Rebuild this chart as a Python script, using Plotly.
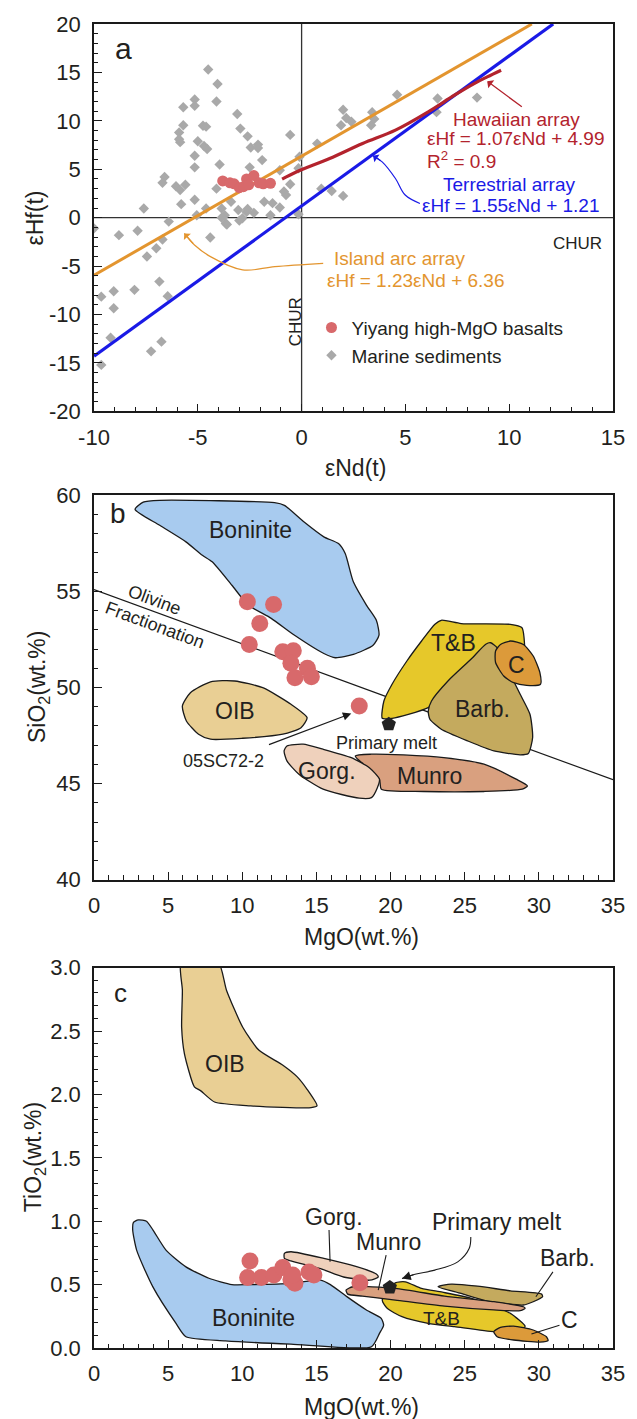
import plotly.graph_objects as go

FONT = "Liberation Sans, Arial, Helvetica, sans-serif"
TXT = "#231f20"

# ---------------- tick labels ----------------
a_xticks = [-10, -5, 0, 5, 10, 15]
a_xlabels = ["-10", "-5", "0", "5", "10", "15"]
a_yticks = [-20, -15, -10, -5, 0, 5, 10, 15, 20]
a_ylabels = ["-20", "-15", "-10", "-5", "0", "5", "10", "15", "20"]

# ---------------- Panel a data ----------------
sed_x = [-4.5, -4.05, -4.1, -5.15, -5.15, -5.7, -3.1, -4.75, -4.6, -5.7, -5.9, -2.95, -2.6, -0.55,
         -5.9, -5.85, -5.0, -4.7, -4.55, -2.45, -2.1, -2.1, -5.15, -1.9, -3.95, -5.15, -2.5, -1.05,
         -0.1, -6.6, -6.7, -6.05, -5.6, -5.85, -4.1, -0.55, -0.85, -0.75, -1.8, -2.3, -1.4, -5.8,
         -5.15, -4.6, -7.6, -3.85, -3.05, -2.65, -2.6, -3.4, -1.05, -1.5, -3.7, -5.05, -6.4, -3.65,
         -3.0, -0.15,
         -10.0, -8.8, -7.9, -6.7, -7.0, -7.45, -6.85, -6.45, -8.05, -9.05, -9.65, -9.05, -9.2,
         -9.65, -7.25, -6.75, -4.4, -3.85, -3.6, -2.85,
         2.0, 1.9, 2.15, 2.4, 3.4, 3.35, 3.5, 4.6, 6.55, 6.5, 8.45, 0.75, 0.95, 1.45, 2.0, -0.15]
sed_y = [15.3, 13.8, 12.0, 12.2, 11.55, 11.4, 10.7, 9.5, 9.4, 9.55, 8.8, 9.2, 8.4, 8.55,
         8.1, 7.8, 7.9, 7.4, 7.1, 7.25, 7.55, 7.2, 6.4, 5.95, 5.5, 5.2, 5.2, 4.9,
         6.3, 4.2, 3.6, 3.25, 3.4, 2.85, 3.0, 3.45, 2.7, 2.35, 1.65, 0.5, 1.5, 1.4,
         1.85, 0.95, 0.95, 0.95, 0.8, 0.6, 0.9, 1.65, 1.05, 0.25, 0.25, 0.25, -0.4, -0.6,
         -0.3, 0.35,
         -1.1, -1.8, -1.35, -2.25, -3.15, -4.0, -6.6, -8.1, -7.45, -7.6, -8.15, -9.35, -12.4,
         -15.2, -13.8, -12.8, -2.05, 0.0, -0.7, -0.05,
         11.15, 9.55, 10.3, 9.9, 10.9, 9.55, 10.2, 12.7, 12.3, 10.9, 12.4, 7.65, 3.0, 2.75, 2.25, 5.1]

bas_a_x = [-3.8, -3.45, -3.25, -3.0, -2.8, -2.65, -2.55, -2.3, -2.05, -1.85, -1.5]
bas_a_y = [3.8, 3.6, 3.5, 3.1, 3.2, 4.0, 3.4, 4.35, 3.6, 3.5, 3.55]

island_x = [-10.0, 11.09]
island_y = [-5.94, 20.0]
terr_x = [-10.0, 12.12]
terr_y = [-14.29, 20.0]
haw_x = [-0.94, -0.23, 1.35, 2.94, 4.52, 6.1, 7.36, 8.31, 8.94, 9.61]
haw_y = [3.98, 4.74, 6.11, 7.66, 9.04, 10.93, 12.65, 13.85, 14.54, 15.23]

terr_arrow_x = [5.7, 4.99, 4.52, 3.88, 3.44]
terr_arrow_y = [1.47, 2.34, 4.05, 5.77, 6.39]
isl_arrow_x = [1.04, -1.29, -2.84, -4.39, -5.16, -5.65]
isl_arrow_y = [-4.71, -5.05, -5.39, -4.02, -2.82, -1.62]
haw_arrow_x = [10.68, 8.94]
haw_arrow_y = [11.34, 14.09]
CHUR = 0

# ---------------- Panel b data ----------------
bon_b_x = [2.77, 3.32, 4.43, 12.18, 12.84, 14.17, 15.5, 16.49, 16.94, 17.49, 18.37, 19.04, 19.22, 18.82,
           17.49, 16.27, 15.5, 13.5, 11.95, 10.4, 9.3, 7.97, 7.31, 6.2, 4.43, 2.77]
bon_b_y = [59.27, 59.65, 59.74, 59.62, 59.48, 58.61, 57.84, 57.49, 56.97, 55.5, 54.29, 53.5, 52.73, 52.2,
           51.72, 51.55, 51.77, 52.73, 53.6, 54.29, 55.32, 56.54, 56.88, 57.58, 58.44, 59.27]
oib_b_x = [5.96, 6.5, 7.86, 9.49, 11.38, 13.28, 14.37, 13.96, 12.74, 10.03, 7.86, 7.05, 6.23, 5.96]
oib_b_y = [49.04, 49.73, 50.3, 50.34, 49.99, 49.13, 48.43, 47.91, 47.57, 47.36, 47.31, 47.57, 48.26, 49.04]
tb_b_x = [19.44, 19.55, 20.1, 21.1, 22.09, 22.99, 23.42, 24.76, 28.08, 28.85, 29.0, 28.96, 27.5, 24.5,
          22.54, 21.2, 20.1, 19.44]
tb_b_y = [48.4, 49.3, 50.17, 51.38, 52.42, 53.29, 53.5, 53.33, 53.29, 53.12, 52.6, 51.56, 51.0, 50.0,
          48.95, 48.6, 48.4, 48.4]
barb_b_x = [26.74, 27.19, 27.85, 28.74, 29.4, 29.58, 29.29, 28.74, 26.97, 25.2, 23.42, 22.65, 22.54, 22.76,
            23.87, 25.42, 26.42, 26.74]
barb_b_y = [52.33, 52.07, 51.03, 49.65, 48.61, 47.4, 46.57, 46.5, 46.7, 47.22, 47.83, 48.35, 48.78, 49.3,
            50.34, 51.47, 52.25, 52.33]
c_b_x = [27.41, 28.08, 28.96, 29.62, 30.07, 30.11, 29.18, 28.3, 27.63, 27.08, 27.08, 27.41]
c_b_y = [52.24, 52.42, 52.24, 51.64, 50.77, 50.17, 50.11, 50.25, 50.6, 51.3, 51.9, 52.24]
gorg_b_x = [13.01, 14.1, 15.45, 17.35, 18.57, 19.25, 19.11, 18.71, 17.89, 15.45, 13.82, 13.01, 12.82, 13.01]
gorg_b_y = [46.96, 47.05, 46.79, 46.35, 45.83, 45.23, 44.79, 44.27, 44.24, 44.71, 45.49, 46.18, 46.7, 46.96]
munro_b_x = [17.62, 18.71, 20.88, 23.59, 26.3, 28.47, 29.23, 28.88, 26.3, 22.23, 19.38, 19.25, 18.16, 17.62]
munro_b_y = [46.44, 46.53, 46.49, 46.35, 46.01, 45.23, 44.88, 44.71, 44.59, 44.59, 44.71, 45.23, 46.01, 46.44]
ol_x = [0, 35]
ol_y = [55.1, 45.2]
bas_b_x = [10.34, 12.11, 11.18, 10.47, 12.73, 13.44, 13.28, 14.39, 13.55, 14.66, 17.89]
bas_b_y = [54.46, 54.32, 53.33, 52.24, 51.86, 51.91, 51.26, 51.0, 50.51, 50.56, 49.04]
pm_b_x = [19.88]
pm_b_y = [48.09]
smp_arrow_x = [11.7, 17.35]
smp_arrow_y = [47.0, 48.65]

# ---------------- Panel c data ----------------
bon_c_x = [2.99, 3.54, 3.98, 4.87, 6.2, 7.75, 9.3, 10.4, 13.28, 15.28, 15.94, 17.05, 18.37, 19.37, 19.53,
           19.26, 18.71, 13.28, 8.86, 6.2, 5.53, 3.98, 2.88, 2.61, 2.66, 2.99]
bon_c_y = [1.01, 1.0, 0.93, 0.77, 0.64, 0.55, 0.5, 0.5, 0.51, 0.535, 0.5, 0.405, 0.3, 0.234, 0.18,
           0.117, 0.01, 0.03, 0.057, 0.089, 0.194, 0.48, 0.77, 0.93, 0.99, 1.01]
oib_c_x = [5.88, 8.35, 8.94, 10.03, 11.11, 12.74, 13.69, 14.37, 15.04, 14.64, 10.57, 8.13, 7.18, 6.77,
           6.1, 5.91, 5.96, 5.88]
oib_c_y = [3.05, 3.05, 2.82, 2.53, 2.35, 2.23, 2.14, 2.04, 1.91, 1.895, 1.91, 1.94, 2.03, 2.06,
           2.32, 2.53, 2.82, 3.05]
gorg_c_x = [12.84, 13.28, 15.5, 17.71, 19.04, 19.17, 18.6, 16.83, 15.28, 13.28, 12.84, 12.84]
gorg_c_y = [0.746, 0.759, 0.707, 0.641, 0.583, 0.56, 0.535, 0.56, 0.626, 0.687, 0.707, 0.746]
munro_c_x = [17.0, 17.45, 20.32, 23.64, 26.96, 28.96, 29.07, 28.74, 26.96, 23.64, 20.32, 18.1, 17.11, 17.0]
munro_c_y = [0.457, 0.483, 0.47, 0.409, 0.365, 0.325, 0.312, 0.294, 0.3, 0.33, 0.378, 0.409, 0.425, 0.457]
tb_c_x = [19.44, 20.32, 20.99, 22.09, 23.5, 25.5, 28.08, 29.07, 28.96, 27.85, 26.96, 24.31, 22.54, 20.77,
          19.77, 19.44]
tb_c_y = [0.378, 0.514, 0.522, 0.47, 0.44, 0.39, 0.273, 0.173, 0.155, 0.142, 0.129, 0.168, 0.194, 0.247,
          0.313, 0.378]
barb_c_x = [23.2, 24.09, 25.86, 28.08, 30.18, 30.25, 29.62, 28.96, 26.5, 24.75, 23.2]
barb_c_y = [0.483, 0.504, 0.488, 0.451, 0.425, 0.404, 0.365, 0.339, 0.37, 0.43, 0.483]
c_c_x = [26.96, 27.41, 28.3, 29.62, 30.51, 30.62, 30.07, 28.3, 27.19, 26.96]
c_c_y = [0.129, 0.163, 0.173, 0.142, 0.089, 0.058, 0.047, 0.063, 0.089, 0.129]
bas_c_x = [10.52, 10.36, 11.29, 12.13, 12.73, 13.28, 13.55, 14.5, 14.83, 13.4, 17.93]
bas_c_y = [0.687, 0.556, 0.556, 0.575, 0.634, 0.54, 0.51, 0.6, 0.575, 0.575, 0.515]
pm_c_x = [19.95]
pm_c_y = [0.478]
lead_gorg_x = [15.85, 15.92]
lead_gorg_y = [0.93, 0.68]
lead_munro_x = [19.7, 19.17]
lead_munro_y = [0.732, 0.457]
lead_barb_x = [30.95, 29.8]
lead_barb_y = [0.6, 0.404]
lead_c_x = [31.39, 29.5]
lead_c_y = [0.18, 0.11]
pm_arrow_x = [25.41, 25.3, 24.53, 22.98, 21.65, 20.77]
pm_arrow_y = [0.876, 0.784, 0.679, 0.614, 0.582, 0.548]

# ---------------- colours ----------------
C_HAW = "#b3232d"
C_TERR = "#1a1ae6"
C_ISL = "#e3952f"
C_SED = "#a9a9a9"
C_BAS = "#d8696b"
C_BON = "#a8cbef"
C_OIB = "#e9cf94"
C_TB = "#e6c82a"
C_BARB = "#c4aa5e"
C_C = "#dc9a3a"
C_GORG = "#efd1bc"
C_MUNRO = "#d9a07f"

fig = go.Figure()


def poly(xs, ys, color, xa, ya):
    fig.add_trace(go.Scatter(x=xs, y=ys, mode="lines", fill="toself", fillcolor=color,
                             line=dict(color="#1a1a1a", width=1.3, shape="spline", smoothing=0.6),
                             xaxis=xa, yaxis=ya, showlegend=False, hoverinfo="skip"))


def line(xs, ys, color, width, xa, ya, shape="linear"):
    fig.add_trace(go.Scatter(x=xs, y=ys, mode="lines", line=dict(color=color, width=width, shape=shape),
                             xaxis=xa, yaxis=ya, showlegend=False, hoverinfo="skip"))


# ---- panel a ----
line([CHUR, CHUR], [-20, 20], "#333333", 1.3, "x", "y")
line([-10, 15], [CHUR, CHUR], "#333333", 1.3, "x", "y")
fig.add_trace(go.Scatter(x=sed_x, y=sed_y, mode="markers", name="Marine sediments",
                         marker=dict(symbol="diamond", size=8, color=C_SED), xaxis="x", yaxis="y",
                         legendrank=2))
line(island_x, island_y, C_ISL, 3, "x", "y")
line(terr_x, terr_y, C_TERR, 3.2, "x", "y")
line(haw_x, haw_y, C_HAW, 3.2, "x", "y", "spline")
fig.add_trace(go.Scatter(x=bas_a_x, y=bas_a_y, mode="markers", name="Yiyang high-MgO basalts",
                         marker=dict(symbol="circle", size=11, color=C_BAS), xaxis="x", yaxis="y",
                         legendrank=1))
line(terr_arrow_x, terr_arrow_y, C_TERR, 1.2, "x", "y", "spline")
line(isl_arrow_x, isl_arrow_y, C_ISL, 1.2, "x", "y", "spline")

# ---- panel b ----
line(ol_x, ol_y, "#1a1a1a", 1.2, "x2", "y2")
poly(bon_b_x, bon_b_y, C_BON, "x2", "y2")
poly(oib_b_x, oib_b_y, C_OIB, "x2", "y2")
poly(tb_b_x, tb_b_y, C_TB, "x2", "y2")
poly(barb_b_x, barb_b_y, C_BARB, "x2", "y2")
poly(c_b_x, c_b_y, C_C, "x2", "y2")
poly(munro_b_x, munro_b_y, C_MUNRO, "x2", "y2")
poly(gorg_b_x, gorg_b_y, C_GORG, "x2", "y2")
fig.add_trace(go.Scatter(x=bas_b_x, y=bas_b_y, mode="markers", showlegend=False,
                         marker=dict(symbol="circle", size=17, color=C_BAS), xaxis="x2", yaxis="y2"))
fig.add_trace(go.Scatter(x=pm_b_x, y=pm_b_y, mode="markers", showlegend=False,
                         marker=dict(symbol="pentagon", size=15, color="#222222"), xaxis="x2", yaxis="y2"))

# ---- panel c ----
poly(bon_c_x, bon_c_y, C_BON, "x3", "y3")
poly(oib_c_x, oib_c_y, C_OIB, "x3", "y3")
poly(tb_c_x, tb_c_y, C_TB, "x3", "y3")
poly(c_c_x, c_c_y, C_C, "x3", "y3")
poly(barb_c_x, barb_c_y, C_BARB, "x3", "y3")
poly(munro_c_x, munro_c_y, C_MUNRO, "x3", "y3")
poly(gorg_c_x, gorg_c_y, C_GORG, "x3", "y3")
for lx, ly in [(lead_gorg_x, lead_gorg_y), (lead_munro_x, lead_munro_y),
               (lead_barb_x, lead_barb_y), (lead_c_x, lead_c_y)]:
    line(lx, ly, "#1a1a1a", 1.1, "x3", "y3")
line(pm_arrow_x, pm_arrow_y, "#1a1a1a", 1.1, "x3", "y3", "spline")
fig.add_trace(go.Scatter(x=bas_c_x, y=bas_c_y, mode="markers", showlegend=False,
                         marker=dict(symbol="circle", size=17, color=C_BAS), xaxis="x3", yaxis="y3"))
fig.add_trace(go.Scatter(x=pm_c_x, y=pm_c_y, mode="markers", showlegend=False,
                         marker=dict(symbol="pentagon", size=15, color="#222222"), xaxis="x3", yaxis="y3"))

# ---------------- annotations ----------------
ann = []


def text(t, x, y, xr, yr, size, color=TXT, angle=0, xanchor="center"):
    ann.append(dict(text=t, x=x, y=y, xref=xr, yref=yr, showarrow=False, textangle=angle,
                    xanchor=xanchor, yanchor="middle", font=dict(family=FONT, size=size, color=color)))


def arrow(xs, ys, xr, yr, color, width=1.2, head=2, size=1.2):
    ann.append(dict(text="", x=xs[-1], y=ys[-1], ax=xs[-2], ay=ys[-2], xref=xr, yref=yr,
                    axref=xr, ayref=yr, showarrow=True, arrowhead=head, arrowsize=size,
                    arrowwidth=width, arrowcolor=color))


# panel a texts
text("Hawaiian array", 10.35, 10.1, "x", "y", 19, C_HAW)
text("εHf = 1.07εNd + 4.99", 10.33, 8.18, "x", "y", 19, C_HAW)
text("R<sup>2</sup> = 0.9", 5.94, 5.98, "x", "y", 19, C_HAW, xanchor="left")
text("Terrestrial array", 9.97, 3.43, "x", "y", 19, C_TERR)
text("εHf = 1.55εNd + 1.21", 10.11, 1.31, "x", "y", 19, C_TERR)
text("CHUR", 13.29, -2.65, "x", "y", 17)
text("CHUR", -0.32, -10.7, "x", "y", 17, angle=-90)
text("Island arc array", 4.72, -4.2, "x", "y", 19, C_ISL)
text("εHf = 1.23εNd + 6.36", 5.49, -6.53, "x", "y", 19, C_ISL)
arrow(haw_arrow_x, haw_arrow_y, "x", "y", C_HAW, 1.3, 1, 1.3)
arrow(terr_arrow_x, terr_arrow_y, "x", "y", C_TERR, 1.2, 1, 1.3)
arrow(isl_arrow_x, isl_arrow_y, "x", "y", C_ISL, 1.2, 1, 1.3)

# panel b texts
text("Boninite", 10.52, 58.18, "x2", "y2", 23)
text("OIB", 9.49, 48.78, "x2", "y2", 23)
text("T&B", 24.26, 52.33, "x2", "y2", 23)
text("C", 28.52, 51.17, "x2", "y2", 23)
text("Barb.", 26.19, 48.87, "x2", "y2", 23)
text("Gorg.", 15.72, 45.66, "x2", "y2", 23)
text("Munro", 22.64, 45.4, "x2", "y2", 23)
text("Primary melt", 19.7, 47.13, "x2", "y2", 18)
text("05SC72-2", 8.73, 46.18, "x2", "y2", 18)
text("Olivine", 4.1, 54.55, "x2", "y2", 18, angle=20.4)
text("Fractionation", 4.1, 53.27, "x2", "y2", 18, angle=20.4)
arrow(smp_arrow_x, smp_arrow_y, "x2", "y2", "#1a1a1a", 1.2, 2, 1.4)

# panel c texts
text("OIB", 8.86, 2.24, "x3", "y3", 23)
text("Boninite", 10.74, 0.234, "x3", "y3", 23)
text("Gorg.", 16.16, 1.034, "x3", "y3", 23)
text("Munro", 19.88, 0.837, "x3", "y3", 23)
text("Primary melt", 27.19, 0.995, "x3", "y3", 23)
text("Barb.", 31.95, 0.706, "x3", "y3", 23)
text("T&B", 23.42, 0.234, "x3", "y3", 19)
text("C", 32.06, 0.22, "x3", "y3", 23)
arrow(pm_arrow_x, pm_arrow_y, "x3", "y3", "#1a1a1a", 1.1, 2, 1.6)

# panel letters
text("a", 0.057, 0.936, "x domain", "y domain", 30)
text("b", 0.046, 0.953, "x2 domain", "y2 domain", 28)
text("c", 0.051, 0.932, "x3 domain", "y3 domain", 26)

# axis titles (paper coords)
text("εHf(t)", -0.114, 0.8537, "paper", "paper", 23, angle=-90)
text("SiO<sub>2</sub>(wt.%)", -0.108, 0.4992, "paper", "paper", 23, angle=-90)
text("TiO<sub>2</sub>(wt.%)", -0.114, 0.1440, "paper", "paper", 23, angle=-90)
text("εNd(t)", 0.503, 0.6644, "paper", "paper", 23)
text("MgO(wt.%)", 0.515, 0.3107, "paper", "paper", 23)
text("MgO(wt.%)", 0.515, -0.0445, "paper", "paper", 23)


def xax(rng, dtick, mdtick, anchor, **kw):
    d = dict(range=rng, dtick=dtick, tick0=0, showline=True, mirror=True, linecolor="#1a1a1a",
             linewidth=1.5, ticks="inside", ticklen=8, tickwidth=1.3, tickcolor="#1a1a1a",
             showgrid=False, zeroline=False, anchor=anchor, ticklabelstandoff=5,
             tickfont=dict(family=FONT, size=22, color=TXT),
             minor=dict(dtick=mdtick, ticks="inside", ticklen=4.5, tickwidth=1.1, tickcolor="#1a1a1a",
                        showgrid=False))
    d.update(kw)
    return d


fig.update_layout(
    width=637, height=1419,
    margin=dict(l=94, r=16, t=22, b=71),
    paper_bgcolor="white", plot_bgcolor="white",
    font=dict(family=FONT, color=TXT),
    xaxis=xax([-10, 15], 5, 1, "y", tickmode="array", tickvals=a_xticks, ticktext=a_xlabels),
    yaxis=xax([-20, 20], 5, 1, "x", domain=[0.7074, 1.0], ticklabelstandoff=7,
              tickmode="array", tickvals=a_yticks, ticktext=a_ylabels),
    xaxis2=xax([0, 35], 5, 1, "y2"),
    yaxis2=xax([40, 60], 5, 1, "x2", domain=[0.3537, 0.6440], ticklabelstandoff=7),
    xaxis3=xax([0, 35], 5, 1, "y3"),
    yaxis3=xax([0, 3], 0.5, 0.1, "x3", domain=[0.0, 0.2873], tickformat=".1f", ticklabelstandoff=7),
    legend=dict(x=0.419, y=0.785, xanchor="left", yanchor="top", bgcolor="rgba(0,0,0,0)",
                font=dict(family=FONT, size=19, color=TXT), tracegroupgap=4, itemwidth=30),
    annotations=ann,
    showlegend=True,
)

fig.write_html(
    "out.html",
    config={"displayModeBar": False},
    post_script="document.body.style.margin='0px';document.body.style.padding='0px';"
                "document.documentElement.style.overflow='hidden';document.body.style.overflow='hidden';",
)
